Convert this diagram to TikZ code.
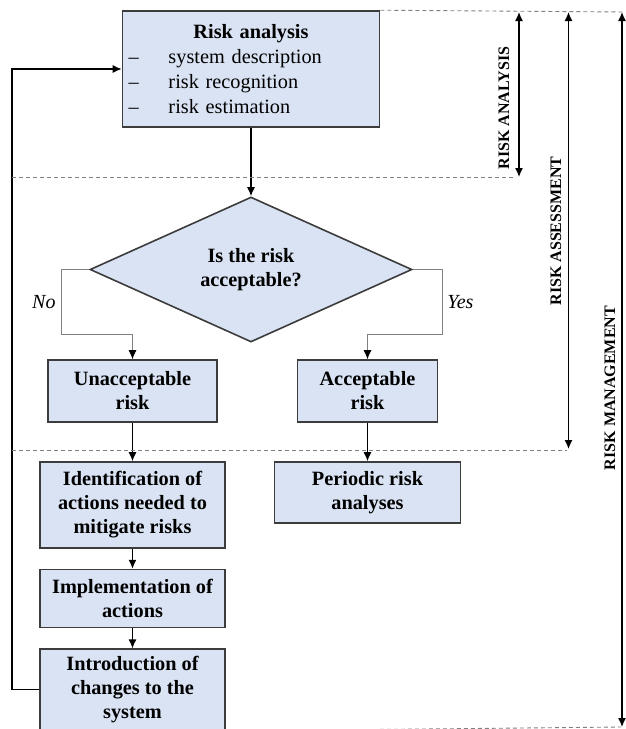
\documentclass[tikz,border=0pt]{standalone}
\usepackage{fontspec}
\setmainfont{Liberation Serif}
\usetikzlibrary{
arrows,
arrows.meta,
positioning,
shapes
}
\tikzset{>={Latex[length=9pt,width=8pt]}}
\definecolor{boxfill}{HTML}{DAE3F3}
\definecolor{boxline}{HTML}{3C3C3C}

\begin{document}
\begin{tikzpicture}[x=1pt, y=-1pt, node distance=20pt,
	box/.style={draw=boxline, fill=boxfill, line width=1.6pt, inner sep=0pt, align=center, font=\fontsize{20.3}{24}\selectfont\bfseries},
	flow/.style={->, line width=1.3pt},
	branch/.style={-{Latex[length=9pt,width=8pt,color=black]}, draw=gray, line width=0.9pt},
	sep/.style={draw=gray, line width=0.9pt, dash pattern=on 4pt off 3pt},
	span/.style={<->, line width=1.3pt},
	spanlabel/.style={font=\fontsize{16}{18}\selectfont\bfseries, rotate=90, inner sep=0pt},
	answer/.style={font=\fontsize{20}{24}\selectfont\itshape}]
	\useasboundingbox (0,0) rectangle (626,729);

	\node[box, align=left, minimum width=257pt, minimum height=116pt, text width=245pt, font=\fontsize{20.3}{25}\selectfont] (ra) at (251,69)
		{\makebox[245pt]{\bfseries Risk analysis}\\
		\makebox[40pt][l]{–}system description\\
		\makebox[40pt][l]{–}risk recognition\\
		\makebox[40pt][l]{–}risk estimation};
	\node[box, diamond, aspect=2.22, minimum width=322pt, minimum height=145pt] (dec) at (251,269.5) {Is the risk\\acceptable?};
	\node[box, minimum width=169pt, minimum height=62pt] (unacc) at (132.5,391) {Unacceptable\\risk};
	\node[box, minimum width=140pt, minimum height=62pt] (acc) at (367.5,391) {Acceptable\\risk};
	\node[box, minimum width=186pt, minimum height=61pt] (periodic) at (367.5,492.5) {Periodic risk\\analyses};
	\node[box, minimum width=185pt, minimum height=86pt] (ident) at (132.5,505) {Identification of\\actions needed to\\mitigate risks};
	\node[box, minimum width=185pt, minimum height=58pt, below=of ident] (impl) {Implementation of\\actions};
	\node[box, minimum width=185pt, minimum height=81pt, below=of impl] (intro) {Introduction of\\changes to the\\system};

	\coordinate (nobend)  at (61,334);
	\coordinate (yesbend) at (442,334);
	\coordinate (fbtop)   at (12,69);

	\draw[flow] (ra) -- (dec);
	\draw[branch] (dec.west) -| node[answer, pos=0.75, left, inner sep=5pt] (no) {No} (nobend) -| (unacc.north);
	\draw[branch] (dec.east) -| node[answer, pos=0.75, right, inner sep=5pt] (yes) {Yes} (yesbend) -| (acc.north);
	\draw[flow] (unacc) -- (ident);
	\draw[flow] (acc) -- (periodic);
	\draw[flow] (ident) -- (impl);
	\draw[flow] (impl) -- (intro);
	\draw[flow] (intro.west) -| (fbtop) -- (ra.west);

	\coordinate (topend)  at (625,12);
	\coordinate (sepAl)   at (12,177);
	\coordinate (sepAr)   at (516,177);
	\coordinate (sepBl)   at (12,450);
	\coordinate (sepBr)   at (567,450);
	\coordinate (botend)  at (621,727);

	\draw[sep] (ra.north east) -- (topend);
	\draw[sep] (sepAl) -- (sepAr);
	\draw[sep] (sepBl) -- (sepBr);
	\draw[sep] (intro.south east) -- (botend);

	\coordinate (anaTop) at (519,12);
	\coordinate (anaBot) at (519,177);
	\coordinate (assTop) at (568.5,12);
	\coordinate (assBot) at (568.5,449);
	\coordinate (manTop) at (622,12);
	\coordinate (manBot) at (622,727);

	\draw[span] (anaBot) -- (anaTop);
	\draw[span] (assBot) -- (assTop);
	\draw[span] (manBot) -- (manTop);

	\node[spanlabel] (analab) at (504,108) {RISK ANALYSIS};
	\node[spanlabel] (asslab) at (556,231) {RISK ASSESSMENT};
	\node[spanlabel] (manlab) at (610,388) {RISK MANAGEMENT};
\end{tikzpicture}
\end{document}
